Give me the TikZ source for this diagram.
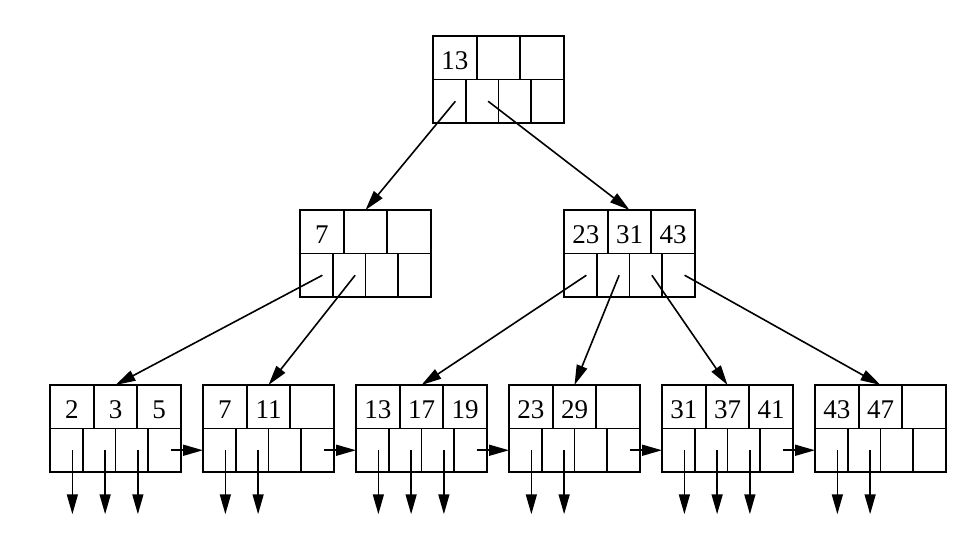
\documentclass[tikz,border=0pt]{standalone}
\usepackage{fontspec}
\setmainfont{Liberation Serif}
\usetikzlibrary{arrows.meta,calc}

\tikzset{
  bline/.style={line width=1.8pt},
  keycell/.style={draw, bline, minimum width=43.667pt, minimum height=43.5pt, inner sep=0pt, outer sep=0pt, font=\fontsize{27}{27}\selectfont, text height=23pt, text depth=0pt, anchor=north west},
  ptrcell/.style={draw, bline, minimum width=32.75pt, minimum height=43.5pt, inner sep=0pt, outer sep=0pt, anchor=north west},
  ptr/.style={line width=1.6pt, -{Triangle[length=20pt,width=11pt]}},
}

\newcommand\bnode[6]{%
  \node[keycell] (#1-k1) at (#2,#3) {#4};
  \node[keycell] (#1-k2) at (#1-k1.north east) {#5};
  \node[keycell] (#1-k3) at (#1-k2.north east) {#6};
  \node[ptrcell] (#1-p1) at (#1-k1.south west) {};
  \node[ptrcell] (#1-p2) at (#1-p1.north east) {};
  \node[ptrcell] (#1-p3) at (#1-p2.north east) {};
  \node[ptrcell] (#1-p4) at (#1-p3.north east) {};
  \coordinate (#1-s1) at ($(#1-p1.center)+(6,0)$);
  \coordinate (#1-s2) at ($(#1-p2.center)+(6,0)$);
  \coordinate (#1-s3) at ($(#1-p3.center)+(6,0)$);
  \coordinate (#1-s4) at ($(#1-p4.center)+(6,0)$);
  \coordinate (#1-e1) at ($(#1-s1)+(0,64)$);
  \coordinate (#1-e2) at ($(#1-s2)+(0,64)$);
  \coordinate (#1-e3) at ($(#1-s3)+(0,64)$);
}

\begin{document}
\begin{tikzpicture}[x=1pt,y=-1pt]
\useasboundingbox (0,0) rectangle (972,548);

\bnode{R}{433}{36}{13}{}{}
\bnode{A}{300}{210}{7}{}{}
\bnode{B}{564}{210}{23}{31}{43}
\bnode{L1}{50}{385}{2}{3}{5}
\bnode{L2}{203}{385}{7}{11}{}
\bnode{L3}{356}{385}{13}{17}{19}
\bnode{L4}{509}{385}{23}{29}{}
\bnode{L5}{662}{385}{31}{37}{41}
\bnode{L6}{815}{385}{43}{47}{}

% root
\draw[ptr] (R-s1) -- (A-k2.north);
\draw[ptr] (R-s2) -- (B-k2.north);
% internal
\draw[ptr] (A-s1) -- (L1-k2.north);
\draw[ptr] (A-s2) -- (L2-k2.north);
\draw[ptr] (B-s1) -- (L3-k2.north);
\draw[ptr] (B-s2) -- (L4-k2.north);
\draw[ptr] (B-s3) -- (L5-k2.north);
\draw[ptr] (B-s4) -- (L6-k2.north);
% leaf chain
\draw[ptr] (L1-s4) -- (L2-p1.west);
\draw[ptr] (L2-s4) -- (L3-p1.west);
\draw[ptr] (L3-s4) -- (L4-p1.west);
\draw[ptr] (L4-s4) -- (L5-p1.west);
\draw[ptr] (L5-s4) -- (L6-p1.west);
% record pointers
\foreach \l in {L1,L3,L5} {
  \draw[ptr] (\l-s1) -- (\l-e1);
  \draw[ptr] (\l-s2) -- (\l-e2);
  \draw[ptr] (\l-s3) -- (\l-e3);
}
\foreach \l in {L2,L4,L6} {
  \draw[ptr] (\l-s1) -- (\l-e1);
  \draw[ptr] (\l-s2) -- (\l-e2);
}
\end{tikzpicture}
\end{document}
